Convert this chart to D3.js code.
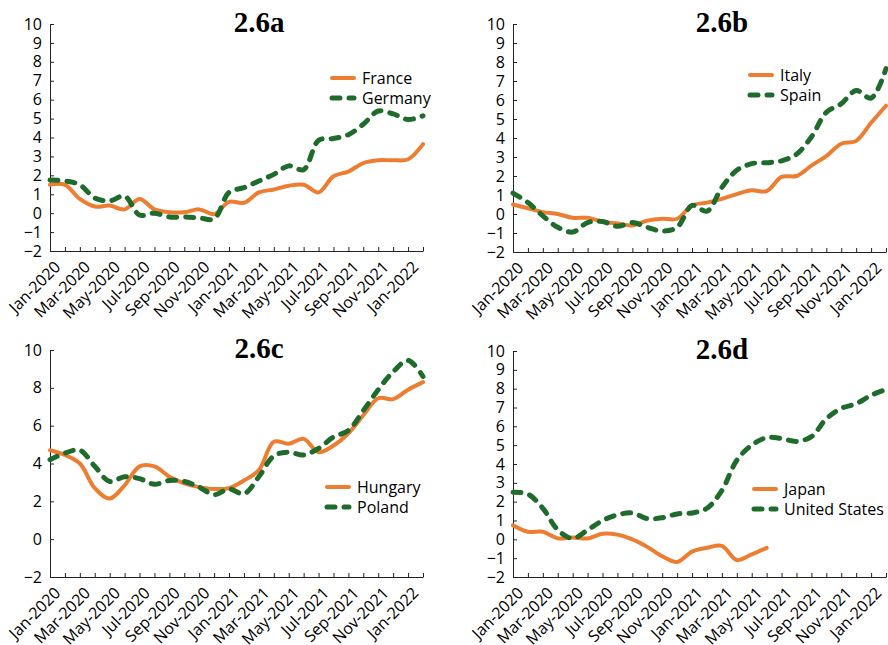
<!DOCTYPE html>
<html>
<head>
<meta charset="utf-8">
<script src="https://cdn.jsdelivr.net/npm/d3@7"></script>
<style>
  body { margin: 0; background: #fff; }
  svg { display: block; }
  .tick text { font-family: "Open Sans", sans-serif; font-size: 16px; fill: #000; }
  .legend text { font-family: "Open Sans", sans-serif; font-size: 16px; fill: #000; }
  .title { font-family: "Liberation Serif", "Times New Roman", serif; font-size: 29px; font-weight: bold; fill: #000; }
</style>
</head>
<body>
<div id="chart"></div>
<script>
// monthly, Jan-2020 .. Feb-2022
const months = ["Jan-2020","Feb-2020","Mar-2020","Apr-2020","May-2020","Jun-2020","Jul-2020","Aug-2020",
  "Sep-2020","Oct-2020","Nov-2020","Dec-2020","Jan-2021","Feb-2021","Mar-2021","Apr-2021","May-2021",
  "Jun-2021","Jul-2021","Aug-2021","Sep-2021","Oct-2021","Nov-2021","Dec-2021","Jan-2022","Feb-2022"];

const franceVals  = [1.5,1.5,0.75,0.35,0.4,0.2,0.75,0.2,0.05,0.05,0.2,-0.05,0.6,0.55,1.1,1.25,1.45,1.5,1.1,1.95,2.2,2.65,2.8,2.8,2.85,3.65];
const germanyVals = [1.75,1.7,1.5,0.8,0.65,0.9,-0.1,0.0,-0.2,-0.2,-0.25,-0.3,1.1,1.35,1.7,2.05,2.5,2.3,3.85,3.95,4.15,4.7,5.4,5.25,4.95,5.15];
const italyVals   = [0.5,0.3,0.1,0.0,-0.2,-0.2,-0.4,-0.5,-0.6,-0.35,-0.25,-0.25,0.45,0.6,0.8,1.05,1.25,1.2,1.95,2.0,2.55,3.05,3.7,3.85,4.8,5.7];
const spainVals   = [1.1,0.6,-0.1,-0.7,-0.95,-0.45,-0.4,-0.65,-0.45,-0.7,-0.9,-0.7,0.45,0.15,1.4,2.3,2.65,2.7,2.8,3.15,4.05,5.35,5.8,6.5,6.1,7.65];
const hungaryVals = [4.7,4.45,4.0,2.7,2.15,2.85,3.85,3.85,3.3,2.95,2.75,2.65,2.7,3.1,3.65,5.15,5.05,5.3,4.6,4.95,5.6,6.55,7.45,7.4,7.9,8.3];
const polandVals  = [4.2,4.55,4.7,3.85,3.05,3.3,3.2,2.9,3.1,3.05,2.75,2.35,2.65,2.4,3.3,4.4,4.6,4.45,4.8,5.4,5.75,6.8,7.9,8.85,9.45,8.6];
const japanVals   = [0.75,0.4,0.4,0.05,0.1,0.05,0.3,0.25,0.0,-0.4,-0.9,-1.2,-0.65,-0.45,-0.35,-1.1,-0.8,-0.45];
const usVals      = [2.5,2.4,1.65,0.5,0.05,0.5,1.0,1.3,1.4,1.1,1.15,1.35,1.4,1.65,2.6,4.2,5.0,5.4,5.35,5.2,5.45,6.4,6.95,7.2,7.65,7.95];

const yTicksAll  = [-2,-1,0,1,2,3,4,5,6,7,8,9,10];
const yTicksEven = [-2,0,2,4,6,8,10];

const panels = [
  { title: "2.6a", x0: 50,  top: 24,  bottom: 251, ticks: yTicksAll,  legend: [280, 78],
    series: [["France", franceVals], ["Germany", germanyVals]] },
  { title: "2.6b", x0: 513, top: 24,  bottom: 252, ticks: yTicksAll,  legend: [235, 75],
    series: [["Italy", italyVals], ["Spain", spainVals]] },
  { title: "2.6c", x0: 50,  top: 350, bottom: 577, ticks: yTicksEven, legend: [275, 487],
    series: [["Hungary", hungaryVals], ["Poland", polandVals]] },
  { title: "2.6d", x0: 513, top: 351, bottom: 577, ticks: yTicksAll,  legend: [239, 489],
    series: [["Japan", japanVals], ["United States", usVals]] }
];

const styles = [
  { color: "#ED7D31", width: 4, dash: null },
  { color: "#1E6B2C", width: 5, dash: "8 9" }
];

const svg = d3.select("#chart").append("svg")
  .attr("width", 888).attr("height", 645);

const plotW = 373;

panels.forEach(p => {
  const g = svg.append("g");

  const x = d3.scalePoint().domain(months).range([p.x0, p.x0 + plotW]);
  const y = d3.scaleLinear().domain([-2, 10]).range([p.bottom, p.top]);

  // axes
  g.append("g")
    .attr("transform", `translate(${p.x0},0)`)
    .call(d3.axisLeft(y).tickValues(p.ticks).tickSize(-4).tickSizeOuter(0).tickPadding(8))
    .call(a => a.selectAll("line, path").attr("stroke", "#222"));

  g.append("g")
    .attr("transform", `translate(0,${p.bottom})`)
    .call(d3.axisBottom(x).tickSize(-4).tickSizeOuter(0).tickFormat((d, i) => i % 2 === 0 ? d : ""))
    .call(a => a.selectAll("line, path").attr("stroke", "#222"))
    .call(a => a.selectAll("text")
      .attr("x", 0).attr("y", 0).attr("dy", 0)
      .attr("text-anchor", "end")
      .attr("transform", "translate(11,17) rotate(-45)"));

  // lines
  const line = d3.line()
    .x((d, i) => x(months[i]))
    .y(d => y(d))
    .curve(d3.curveCatmullRom.alpha(0.5));

  p.series.forEach(([name, vals], k) => {
    const s = styles[k];
    g.append("path")
      .datum(vals)
      .attr("d", line)
      .attr("fill", "none")
      .attr("stroke", s.color)
      .attr("stroke-width", s.width)
      .attr("stroke-linecap", "round")
      .attr("stroke-linejoin", "round")
      .attr("stroke-dasharray", s.dash);
  });

  // title
  g.append("text").attr("class", "title")
    .attr("x", p.x0 + 209).attr("y", p.top + 8)
    .attr("text-anchor", "middle")
    .text(p.title);

  // legend
  const lg = g.append("g").attr("class", "legend")
    .attr("transform", `translate(${p.x0 + p.legend[0]},${p.legend[1]})`);
  p.series.forEach(([name], k) => {
    const s = styles[k];
    const row = lg.append("g").attr("transform", `translate(0,${k * 20})`);
    row.append("line")
      .attr("x1", 2).attr("x2", 24).attr("y1", 0).attr("y2", 0)
      .attr("stroke", s.color).attr("stroke-width", s.width)
      .attr("stroke-linecap", "round")
      .attr("stroke-dasharray", s.dash);
    row.append("text").attr("x", 32).attr("y", 0).attr("dy", "0.35em").text(name);
  });
});
</script>
</body>
</html>
